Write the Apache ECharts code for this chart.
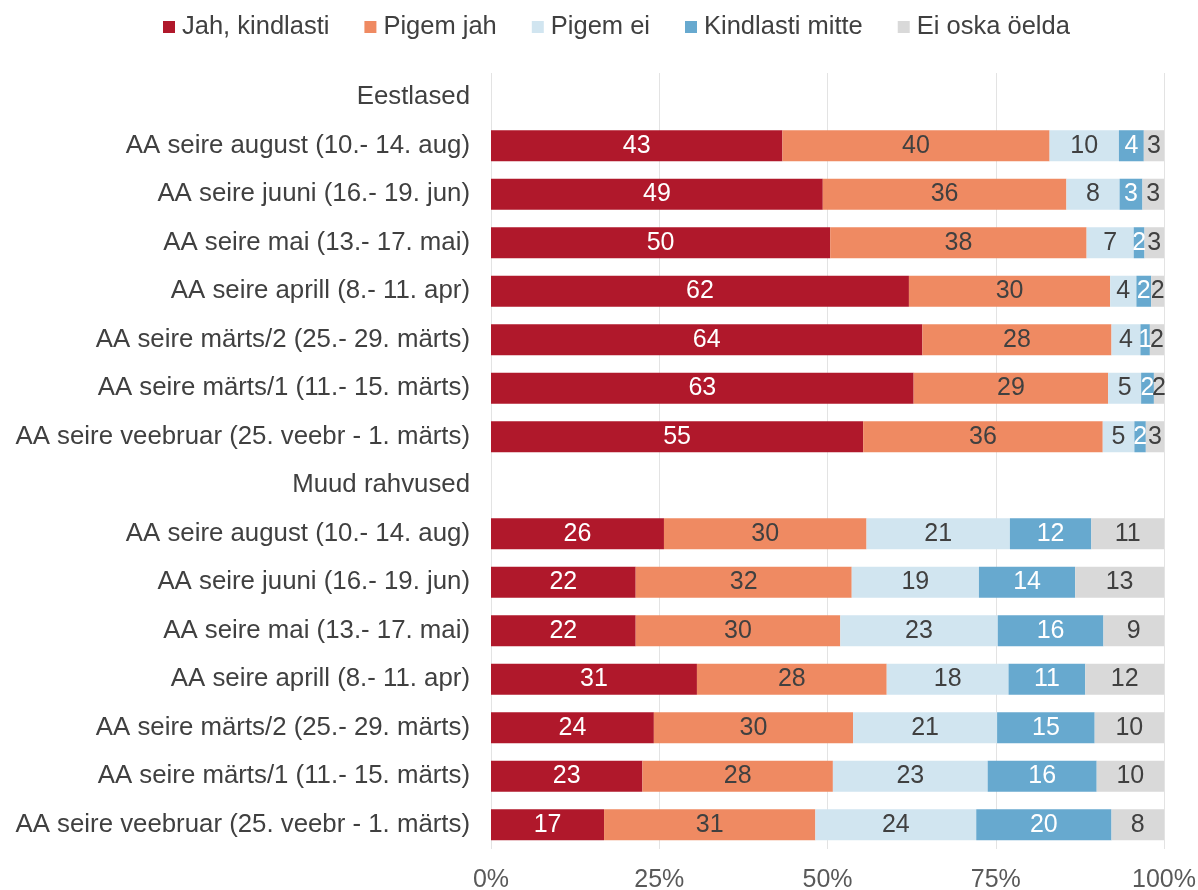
<!DOCTYPE html>
<html>
<head>
<meta charset="utf-8">
<script src="https://cdn.jsdelivr.net/npm/echarts@6/dist/echarts.min.js"></script>
<style>html,body{margin:0;padding:0;background:#fff;}#c{width:1198px;height:890px;}</style>
</head>
<body>
<div id="c"></div>
<script>
const categories = [
  "Eestlased",
  "AA seire august (10.- 14. aug)",
  "AA seire juuni (16.- 19. jun)",
  "AA seire mai (13.- 17. mai)",
  "AA seire aprill (8.- 11. apr)",
  "AA seire märts/2 (25.- 29. märts)",
  "AA seire märts/1 (11.- 15. märts)",
  "AA seire veebruar (25. veebr - 1. märts)",
  "Muud rahvused",
  "AA seire august (10.- 14. aug)",
  "AA seire juuni (16.- 19. jun)",
  "AA seire mai (13.- 17. mai)",
  "AA seire aprill (8.- 11. apr)",
  "AA seire märts/2 (25.- 29. märts)",
  "AA seire märts/1 (11.- 15. märts)",
  "AA seire veebruar (25. veebr - 1. märts)"
];
const seriesNames = ["Jah, kindlasti", "Pigem jah", "Pigem ei", "Kindlasti mitte", "Ei oska öelda"];
const jahKindlasti   = [null, 43.3, 49.3, 50.4, 62.1, 64.1, 62.8, 55.3, null, 25.7, 21.5, 21.5, 30.6, 24.2, 22.5, 16.8];
const pigemJah       = [null, 39.7, 36.2, 38.1, 29.9, 28.1, 28.9, 35.6, null, 30.1, 32.1, 30.4, 28.2, 29.6, 28.3, 31.4];
const pigemEi        = [null, 10.3, 7.9, 7.0, 3.9, 4.3, 4.9, 4.7, null, 21.3, 18.9, 23.4, 18.1, 21.4, 23.0, 23.9];
const kindlastiMitte = [null, 3.7, 3.4, 1.6, 2.2, 1.4, 1.9, 1.7, null, 12.1, 14.3, 15.7, 11.4, 14.5, 16.2, 20.1];
const eiOskaOelda    = [null, 3.0, 3.2, 2.9, 1.9, 2.1, 1.5, 2.7, null, 10.8, 13.2, 9.0, 11.7, 10.3, 10.0, 7.8];
const xTicks = [0, 25, 50, 75, 100];

const colors = ["#B0182B", "#EF8A62", "#D1E5F0", "#67A9CF", "#D9D9D9"];
const labelColors = ["#ffffff", "#404040", "#404040", "#ffffff", "#404040"];
const values = [jahKindlasti, pigemJah, pigemEi, kindlastiMitte, eiOskaOelda];
const FONT = "'Liberation Sans', Arial, sans-serif";

const chart = echarts.init(document.getElementById('c'), null, {renderer: 'canvas'});
chart.setOption({
  animation: false,
  color: colors,
  legend: {
    top: 9,
    left: 158,
    itemWidth: 12,
    itemHeight: 12,
    itemGap: 35,
    icon: 'rect',
    textStyle: {fontFamily: FONT, fontSize: 25.5, color: '#404040', padding: [0, 0, 0, 2]},
    data: seriesNames
  },
  grid: {left: 491, right: 34, top: 73, bottom: 41, outerBoundsMode: 'none', containLabel: false},
  xAxis: {
    type: 'value',
    min: xTicks[0],
    max: xTicks[xTicks.length - 1],
    interval: 25,
    axisLine: {show: false},
    axisTick: {show: false},
    axisLabel: {formatter: v => v + '%', fontFamily: FONT, fontSize: 25, color: '#595959', margin: 19},
    splitLine: {show: true, lineStyle: {color: '#E3E3E3', width: 1}}
  },
  yAxis: {
    type: 'category',
    inverse: true,
    data: categories,
    axisLine: {show: false},
    axisTick: {show: false},
    axisLabel: {fontFamily: FONT, fontSize: 25.8, color: '#404040', margin: 21}
  },
  series: seriesNames.map((name, i) => ({
    name: name,
    type: 'bar',
    stack: 'total',
    barWidth: '64%',
    data: values[i],
    itemStyle: {color: colors[i]},
    label: {
      show: true,
      position: 'inside',
      formatter: p => (p.value == null ? '' : String(Math.round(p.value))),
      fontFamily: FONT,
      fontSize: 25,
      color: labelColors[i]
    }
  }))
});
</script>
</body>
</html>
